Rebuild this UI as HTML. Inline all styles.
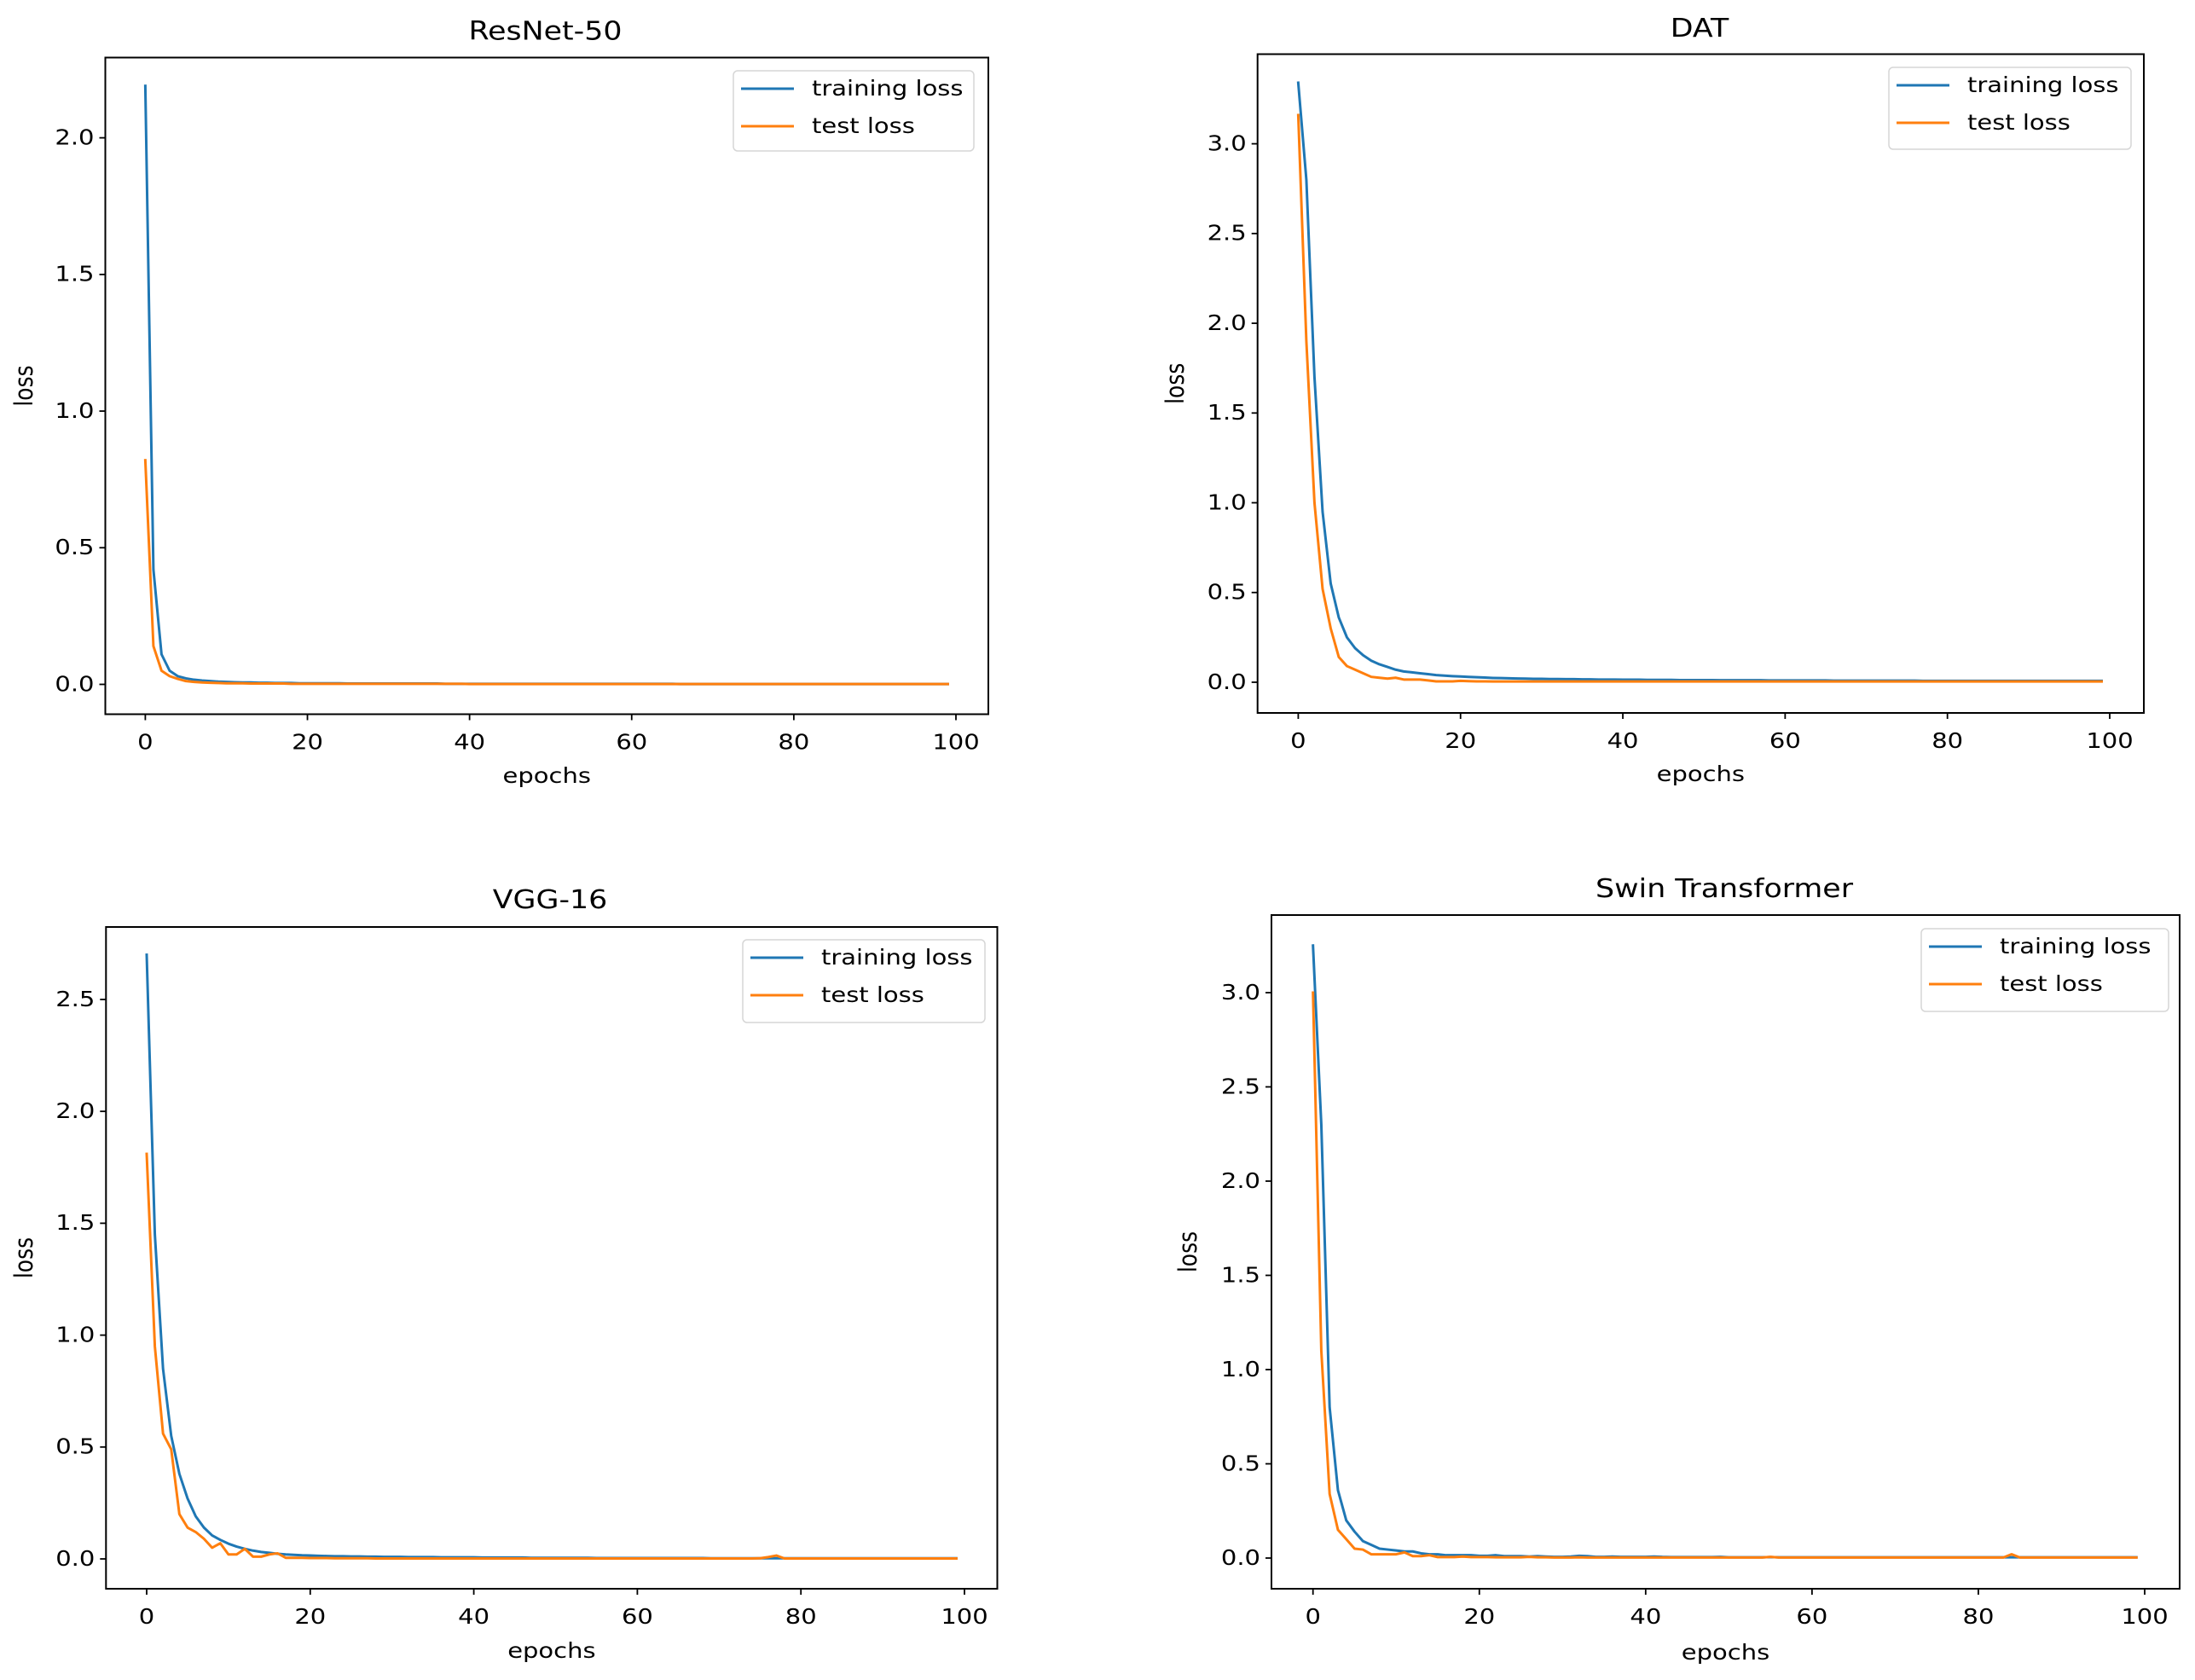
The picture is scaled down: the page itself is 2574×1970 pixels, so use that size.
<!DOCTYPE html>
<html><head><meta charset="utf-8">
<style>
html,body{margin:0;padding:0;background:#fff;overflow:hidden;}
svg{display:block;font-family:"DejaVu Sans","Liberation Sans",sans-serif;}
</style></head>
<body>
<svg id="fig" width="2574" height="1970" viewBox="0 0 2574 1970" xmlns="http://www.w3.org/2000/svg"></svg>
<script>
const epochs = Array.from({length:100},(_, i)=>i);
const xTicks = [0,20,40,60,80,100];
const xTickLabels = ["0","20","40","60","80","100"];

const resnetTrain = [2.19,0.42,0.11,0.05,0.03,0.022,0.017,0.014,0.012,0.010,0.009,0.008,0.007,0.007,0.006,0.006,0.005,0.005,0.005,0.004,
0.004,0.004,0.004,0.004,0.004,0.003,0.003,0.003,0.003,0.003,0.003,0.003,0.003,0.003,0.003,0.003,0.003,0.002,0.002,0.002,
0.002,0.002,0.002,0.002,0.002,0.002,0.002,0.002,0.002,0.002,0.002,0.002,0.002,0.002,0.002,0.002,0.002,0.002,0.002,0.002,
0.002,0.002,0.002,0.002,0.002,0.002,0.001,0.001,0.001,0.001,0.001,0.001,0.001,0.001,0.001,0.001,0.001,0.001,0.001,0.001,
0.001,0.001,0.001,0.001,0.001,0.001,0.001,0.001,0.001,0.001,0.001,0.001,0.001,0.001,0.001,0.001,0.001,0.001,0.001,0.001];
const resnetTest = [0.82,0.14,0.05,0.03,0.02,0.012,0.009,0.007,0.006,0.005,0.004,0.004,0.004,0.003,0.003,0.003,0.003,0.003,0.002,0.002,
0.002,0.002,0.002,0.002,0.002,0.002,0.002,0.002,0.002,0.002,0.002,0.002,0.002,0.002,0.002,0.002,0.002,0.002,0.002,0.002,
0.001,0.001,0.001,0.001,0.001,0.001,0.001,0.001,0.001,0.001,0.001,0.001,0.001,0.001,0.001,0.001,0.001,0.001,0.001,0.001,
0.001,0.001,0.001,0.001,0.001,0.001,0.001,0.001,0.001,0.001,0.001,0.001,0.001,0.001,0.001,0.001,0.001,0.001,0.001,0.001,
0.001,0.001,0.001,0.001,0.001,0.001,0.001,0.001,0.001,0.001,0.001,0.001,0.001,0.001,0.001,0.001,0.001,0.001,0.001,0.001];
const resnetYTicks = [0,0.5,1.0,1.5,2.0];
const resnetYLabels = ["0.0","0.5","1.0","1.5","2.0"];

const datTrain = [3.34,2.8,1.7,0.95,0.55,0.36,0.25,0.19,0.15,0.12,0.10,0.085,0.07,0.06,0.055,0.05,0.045,0.04,0.037,0.034,
0.032,0.030,0.028,0.026,0.024,0.023,0.022,0.021,0.020,0.019,0.019,0.018,0.018,0.017,0.017,0.016,0.016,0.015,0.015,0.015,
0.014,0.014,0.014,0.013,0.013,0.013,0.013,0.012,0.012,0.012,0.012,0.012,0.011,0.011,0.011,0.011,0.011,0.011,0.010,0.010,
0.010,0.010,0.010,0.010,0.010,0.010,0.009,0.009,0.009,0.009,0.009,0.009,0.009,0.009,0.009,0.009,0.009,0.008,0.008,0.008,
0.008,0.008,0.008,0.008,0.008,0.008,0.008,0.008,0.008,0.008,0.008,0.008,0.008,0.008,0.008,0.008,0.008,0.008,0.008,0.008];
const datTest = [3.16,1.9,1.0,0.52,0.3,0.14,0.09,0.07,0.05,0.03,0.025,0.02,0.025,0.015,0.015,0.015,0.01,0.005,0.005,0.005,
0.008,0.006,0.005,0.005,0.004,0.004,0.004,0.004,0.004,0.004,0.004,0.004,0.004,0.004,0.004,0.004,0.004,0.004,0.004,0.004,
0.004,0.004,0.004,0.004,0.004,0.004,0.004,0.004,0.004,0.004,0.004,0.004,0.004,0.004,0.004,0.004,0.004,0.004,0.004,0.004,
0.004,0.004,0.004,0.004,0.004,0.004,0.004,0.004,0.004,0.004,0.004,0.004,0.004,0.004,0.004,0.004,0.004,0.004,0.004,0.004,
0.004,0.004,0.004,0.004,0.004,0.004,0.004,0.004,0.004,0.004,0.004,0.004,0.004,0.004,0.004,0.004,0.004,0.004,0.004,0.004];
const datYTicks = [0,0.5,1.0,1.5,2.0,2.5,3.0];
const datYLabels = ["0.0","0.5","1.0","1.5","2.0","2.5","3.0"];

const vggTrain = [2.70,1.45,0.85,0.55,0.38,0.27,0.19,0.14,0.105,0.085,0.068,0.055,0.045,0.037,0.031,0.027,0.023,0.020,0.018,0.016,
0.015,0.014,0.013,0.012,0.012,0.011,0.011,0.010,0.010,0.009,0.009,0.009,0.008,0.008,0.008,0.008,0.007,0.007,0.007,0.007,
0.007,0.006,0.006,0.006,0.006,0.006,0.006,0.005,0.005,0.005,0.005,0.005,0.005,0.005,0.005,0.004,0.004,0.004,0.004,0.004,
0.004,0.004,0.004,0.004,0.004,0.004,0.004,0.004,0.004,0.003,0.003,0.003,0.003,0.003,0.003,0.003,0.003,0.003,0.003,0.003,
0.003,0.003,0.003,0.003,0.003,0.003,0.003,0.003,0.003,0.003,0.003,0.003,0.003,0.003,0.003,0.003,0.003,0.003,0.003,0.003];
const vggTest = [1.81,0.95,0.56,0.49,0.2,0.14,0.12,0.09,0.05,0.07,0.02,0.02,0.045,0.01,0.01,0.02,0.025,0.005,0.005,0.005,
0.004,0.004,0.004,0.003,0.003,0.003,0.003,0.003,0.002,0.002,0.002,0.002,0.002,0.002,0.002,0.002,0.002,0.002,0.002,0.002,
0.002,0.002,0.002,0.002,0.002,0.002,0.002,0.002,0.002,0.002,0.002,0.002,0.002,0.002,0.002,0.002,0.002,0.002,0.002,0.002,
0.002,0.002,0.002,0.002,0.002,0.002,0.002,0.002,0.002,0.002,0.002,0.002,0.002,0.002,0.002,0.003,0.008,0.015,0.002,0.002,
0.002,0.002,0.002,0.002,0.002,0.002,0.002,0.002,0.002,0.002,0.002,0.002,0.002,0.002,0.002,0.002,0.002,0.002,0.002,0.002];
const vggYTicks = [0,0.5,1.0,1.5,2.0,2.5];
const vggYLabels = ["0.0","0.5","1.0","1.5","2.0","2.5"];

const swinTrain = [3.25,2.3,0.8,0.36,0.2,0.14,0.09,0.07,0.05,0.045,0.04,0.035,0.035,0.025,0.02,0.02,0.015,0.015,0.015,0.015,
0.012,0.012,0.015,0.01,0.01,0.01,0.008,0.01,0.008,0.006,0.006,0.008,0.012,0.01,0.006,0.006,0.008,0.006,0.006,0.006,
0.006,0.008,0.006,0.005,0.005,0.005,0.005,0.005,0.005,0.006,0.004,0.004,0.004,0.004,0.004,0.005,0.004,0.004,0.004,0.004,
0.004,0.004,0.004,0.004,0.004,0.004,0.004,0.004,0.004,0.004,0.004,0.004,0.004,0.004,0.004,0.004,0.004,0.004,0.004,0.004,
0.004,0.004,0.004,0.004,0.004,0.004,0.004,0.004,0.004,0.004,0.004,0.004,0.004,0.004,0.004,0.004,0.004,0.004,0.004,0.004];
const swinTest = [3.0,1.1,0.34,0.15,0.1,0.05,0.045,0.02,0.02,0.02,0.02,0.03,0.01,0.01,0.015,0.005,0.005,0.005,0.008,0.005,
0.005,0.005,0.004,0.004,0.004,0.004,0.006,0.004,0.004,0.003,0.003,0.003,0.004,0.003,0.003,0.003,0.003,0.003,0.003,0.003,
0.003,0.003,0.003,0.003,0.003,0.003,0.003,0.003,0.003,0.003,0.003,0.003,0.003,0.003,0.003,0.006,0.003,0.003,0.003,0.003,
0.003,0.003,0.003,0.003,0.003,0.003,0.003,0.003,0.003,0.003,0.003,0.003,0.003,0.003,0.003,0.003,0.003,0.003,0.003,0.003,
0.003,0.003,0.003,0.003,0.02,0.003,0.003,0.003,0.003,0.003,0.003,0.003,0.003,0.003,0.003,0.003,0.003,0.003,0.003,0.003];
const swinYTicks = [0,0.5,1.0,1.5,2.0,2.5,3.0];
const swinYLabels = ["0.0","0.5","1.0","1.5","2.0","2.5","3.0"];

const panels = [
 {key:"resnet", title:"ResNet-50", train:resnetTrain, test:resnetTest, yt:resnetYTicks, yl:resnetYLabels,
  L:123.5,R:1159,T:67.5,B:837.5, x0:170.4,x100:1121, y0:802.5, yRefV:2.0, yRefP:161.6, titleX:639.5,titleY:36.5,
  ylabX:29, xlabY:910, lg:{x:860,y:83,w:282,h:94}},
 {key:"dat", title:"DAT", train:datTrain, test:datTest, yt:datYTicks, yl:datYLabels,
  L:1474.7,R:2514,T:63.5,B:836, x0:1522.4,x100:2474, y0:800, yRefV:3.0, yRefP:168.6, titleX:1993,titleY:32.7,
  ylabX:1379, xlabY:908, lg:{x:2215,y:79,w:284,h:96}},
 {key:"vgg", title:"VGG-16", train:vggTrain, test:vggTest, yt:vggYTicks, yl:vggYLabels,
  L:124.3,R:1169.5,T:1087,B:1863, x0:172,x100:1131, y0:1828, yRefV:2.5, yRefP:1172, titleX:645,titleY:1055,
  ylabX:29, xlabY:1936, lg:{x:871,y:1102,w:284,h:97}},
 {key:"swin", title:"Swin Transformer", train:swinTrain, test:swinTest, yt:swinYTicks, yl:swinYLabels,
  L:1491,R:2556,T:1073,B:1863, x0:1539.7,x100:2515, y0:1827, yRefV:3.0, yRefP:1164, titleX:2022,titleY:1042,
  ylabX:1394, xlabY:1938, lg:{x:2253,y:1089,w:290,h:97}}
];

const NS = "http://www.w3.org/2000/svg";
const svg = document.getElementById('fig');
const SX = 1.16;
function mk(tag, attrs, parent){
  const e = document.createElementNS(NS, tag);
  for (const k in attrs) e.setAttribute(k, attrs[k]);
  (parent||svg).appendChild(e);
  return e;
}
function txt(parent, x, y, s, size, anchor, rot){
  const e = document.createElementNS(NS,'text');
  e.setAttribute('x',0); e.setAttribute('y',0);
  e.setAttribute('text-anchor',anchor);
  e.setAttribute('dominant-baseline','central');
  e.setAttribute('font-size',size);
  e.setAttribute('fill','#000');
  e.setAttribute('transform', rot ? `translate(${x} ${y}) rotate(-90) scale(1 ${SX})` : `translate(${x} ${y}) scale(${SX} 1)`);
  e.textContent = s;
  parent.appendChild(e);
  return e;
}

panels.forEach(p=>{
  const g = mk('g',{});
  
  
  const xs = v => p.x0 + (p.x100 - p.x0) * v / 100;
  const ys = v => p.y0 + (p.yRefP - p.y0) * v / p.yRefV;

  const t = txt(g, p.titleX, p.titleY, p.title, 30, 'middle');
  
  

  [[p.train,'#1f77b4','training-loss-line'],[p.test,'#ff7f0e','test-loss-line']].forEach(([arr,col,nm])=>{
    const d = arr.map((v,i)=>(i?'L':'M')+xs(epochs[i]).toFixed(2)+','+ys(v).toFixed(2)).join(' ');
    const path = mk('path',{d:d,fill:'none',stroke:col,'stroke-width':3,'stroke-linejoin':'round','stroke-linecap':'square'},g);
    
    
  });

  const fr = mk('rect',{x:p.L,y:p.T,width:p.R-p.L,height:p.B-p.T,fill:'none',stroke:'#000','stroke-width':2},g);
  
  

  xTicks.forEach((v,i)=>{
    const x = xs(v);
    mk('line',{x1:x,y1:p.B,x2:x,y2:p.B+7,stroke:'#000','stroke-width':1.8},g);
    const tl = txt(g, x, p.B+33, xTickLabels[i], 25, 'middle');
    
    
  });
  p.yt.forEach((v,i)=>{
    const y = ys(v);
    mk('line',{x1:p.L-7,y1:y,x2:p.L,y2:y,stroke:'#000','stroke-width':1.8},g);
    const tl = txt(g, p.L-13, y, p.yl[i], 25, 'end');
    
    
  });

  const xl = txt(g, (p.L+p.R)/2, p.xlabY, 'epochs', 25, 'middle');
  
  
  const yl = txt(g, p.ylabX, (p.T+p.B)/2, 'loss', 25, 'middle', true);
  
  

  const lg = p.lg;
  const lgG = mk('g',{},g);
  
  
  mk('rect',{x:lg.x,y:lg.y,width:lg.w,height:lg.h,rx:5,fill:'#fff','fill-opacity':0.8,stroke:'#d6d6d6','stroke-width':1.5},lgG);
  [['training loss','#1f77b4',21],['test loss','#ff7f0e',65]].forEach(([lab,col,dy])=>{
    const e = mk('g',{},lgG);
    
    
    mk('line',{x1:lg.x+9,y1:lg.y+dy,x2:lg.x+71,y2:lg.y+dy,stroke:col,'stroke-width':3},e);
    txt(e, lg.x+92, lg.y+dy, lab, 25, 'start');
  });
});
</script>
</body></html>
